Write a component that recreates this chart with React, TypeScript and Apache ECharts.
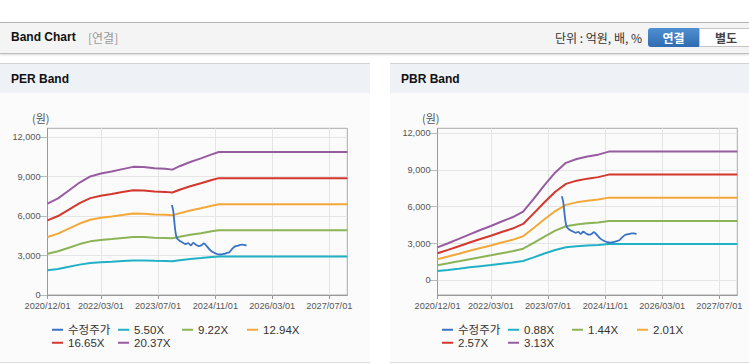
import React, { useEffect, useRef } from "react";
import * as echarts from "echarts";

// ---------- data ----------
const xTickDates = ["2020/12/01", "2022/03/01", "2023/07/01", "2024/11/01", "2026/03/01", "2027/07/01"];
const xStart = "2020/12/01";
const xEnd = "2027/12/01";
const yTicks = [0, 3000, 6000, 9000, 12000];

const perDates = ["2020/12/01", "2021/03/01", "2021/06/01", "2021/09/01", "2021/12/01", "2022/03/01", "2022/06/01", "2022/09/01", "2022/12/01", "2023/03/01", "2023/06/01", "2023/09/01", "2023/11/01", "2024/01/01", "2024/04/01", "2024/07/01", "2024/10/01", "2024/12/01", "2027/12/01"];
const per550 = [1877, 1985, 2147, 2311, 2435, 2495, 2538, 2587, 2633, 2630, 2603, 2592, 2576, 2646, 2732, 2808, 2889, 2938, 2938];
const per922 = [3146, 3327, 3598, 3874, 4082, 4182, 4254, 4336, 4413, 4408, 4363, 4345, 4318, 4435, 4580, 4707, 4843, 4924, 4924];
const per1294 = [4415, 4669, 5051, 5438, 5730, 5870, 5972, 6086, 6194, 6188, 6124, 6099, 6061, 6226, 6429, 6607, 6798, 6912, 6912];
const per1665 = [5681, 6008, 6498, 6997, 7373, 7553, 7684, 7831, 7970, 7961, 7880, 7847, 7798, 8011, 8272, 8501, 8746, 8893, 8893];
const per2037 = [6950, 7350, 7950, 8560, 9020, 9240, 9400, 9580, 9750, 9740, 9640, 9600, 9540, 9800, 10120, 10400, 10700, 10880, 10880];

const pbrDates = ["2020/12/01", "2021/03/01", "2021/06/01", "2021/09/01", "2021/12/01", "2022/03/01", "2022/06/01", "2022/09/01", "2022/12/01", "2023/03/01", "2023/06/01", "2023/09/01", "2023/12/01", "2024/03/01", "2024/06/01", "2024/09/01", "2024/12/01", "2027/12/01"];
const pbr088 = [754, 849, 950, 1055, 1153, 1246, 1350, 1445, 1575, 1870, 2182, 2475, 2694, 2784, 2840, 2882, 2953, 2953];
const pbr144 = [1233, 1390, 1555, 1725, 1886, 2038, 2208, 2365, 2577, 3060, 3570, 4049, 4408, 4555, 4647, 4716, 4831, 4831];
const pbr201 = [1721, 1939, 2171, 2408, 2633, 2845, 3083, 3301, 3596, 4271, 4983, 5651, 6152, 6358, 6486, 6583, 6743, 6743];
const pbr257 = [2200, 2480, 2775, 3079, 3367, 3637, 3941, 4220, 4598, 5460, 6372, 7226, 7866, 8129, 8293, 8416, 8622, 8622];
const pbr313 = [2680, 3020, 3380, 3750, 4100, 4430, 4800, 5140, 5600, 6650, 7760, 8800, 9580, 9900, 10100, 10250, 10500, 10500];

const priceDates = ["2023/10/27", "2023/11/08", "2023/11/17", "2023/11/27", "2023/12/08", "2023/12/29", "2024/01/26", "2024/02/23", "2024/03/15", "2024/04/05", "2024/04/26", "2024/05/24", "2024/06/14", "2024/07/05", "2024/07/26", "2024/08/23", "2024/09/20", "2024/10/18", "2024/11/15", "2024/12/13", "2025/01/10", "2025/02/07", "2025/02/28", "2025/03/21", "2025/04/18", "2025/05/16", "2025/06/13", "2025/07/04", "2025/07/25"];
const priceValues = [6850, 6400, 5600, 4800, 4350, 4150, 4000, 3880, 3950, 3780, 3960, 3800, 3720, 3780, 3930, 3680, 3400, 3230, 3120, 3080, 3120, 3200, 3260, 3480, 3700, 3760, 3830, 3820, 3760];

const perNames = ["수정주가", "5.50X", "9.22X", "12.94X", "16.65X", "20.37X"];
const pbrNames = ["수정주가", "0.88X", "1.44X", "2.01X", "2.57X", "3.13X"];
const colors = ["#3a72c4", "#21b1c6", "#8cb356", "#f4a83a", "#d3372d", "#975ca0"];

// ---------- helpers ----------
const toMs = (d: string) => {
  const [y, m, dd] = d.split("/").map(Number);
  return Date.UTC(y, m - 1, dd);
};
const fmtDate = (v: number) => {
  const d = new Date(v);
  const p = (n: number) => (n < 10 ? "0" + n : "" + n);
  return d.getUTCFullYear() + "/" + p(d.getUTCMonth() + 1) + "/" + p(d.getUTCDate());
};
const zip = (dates: string[], vals: number[]) => dates.map((d, i) => [toMs(d), vals[i]]);

const axisFont = "'Liberation Sans', Arial, sans-serif";
const legendFont = "'Liberation Sans', 'Noto Sans CJK KR', sans-serif";

// legend slot positions (layout)
const legendSlots = [
  [52, 231], [118, 231], [182, 231], [247, 231],
  [52, 244], [118, 244],
];

function buildOption(names: string[], dates: string[], bands: number[][], yMin: number, yMax: number) {
  const series: any[] = [];
  series.push({
    name: names[0],
    type: "line",
    data: zip(priceDates, priceValues),
    symbol: "none",
    smooth: 0.3,
    lineStyle: { width: 1.8, color: colors[0] },
    itemStyle: { color: colors[0] },
    z: 5,
  });
  bands.forEach((b, i) => {
    series.push({
      name: names[i + 1],
      type: "line",
      data: zip(dates, b),
      symbol: "none",
      lineStyle: { width: 2, color: colors[i + 1] },
      itemStyle: { color: colors[i + 1] },
    });
  });
  const legends = names.map((n, i) => ({
    data: [n],
    left: legendSlots[i][0],
    top: legendSlots[i][1],
    icon: "rect",
    itemWidth: 11,
    itemHeight: 2,
    padding: 0,
    textStyle: { fontSize: 11.5, color: "#333", fontFamily: legendFont },
    selectedMode: false,
  }));
  return {
    animation: false,
    grid: { left: 47.5, right: 0, top: 35.3, bottom: 66, show: true, borderColor: "#aaa", borderWidth: 1 },
    xAxis: {
      type: "value",
      min: toMs(xStart),
      max: toMs(xEnd),
      axisLine: { onZero: false, lineStyle: { color: "#999" } },
      axisTick: { show: true, length: 4, customValues: xTickDates.map(toMs), lineStyle: { color: "#999" } },
      axisLabel: {
        customValues: xTickDates.map(toMs),
        formatter: (v: number) => fmtDate(v),
        fontSize: 9.2,
        color: "#555",
        fontFamily: axisFont,
        margin: 6,
        showMinLabel: true,
        showMaxLabel: true,
      },
      splitLine: { show: true, lineStyle: { color: "#e5e5e5" } },
    },
    yAxis: {
      type: "value",
      min: yMin,
      max: yMax,
      axisLine: { show: true, onZero: false, lineStyle: { color: "#999" } },
      axisTick: { show: true, length: 8, customValues: yTicks, lineStyle: { color: "#bbb" } },
      axisLabel: {
        customValues: yTicks,
        formatter: (v: number) => v.toLocaleString("en-US"),
        fontSize: 9.2,
        color: "#555",
        fontFamily: axisFont,
        margin: 7,
      },
      splitLine: { show: true, lineStyle: { color: "#e5e5e5" } },
    },
    legend: legends,
    graphic: [
      {
        type: "text",
        left: 32,
        top: 19,
        style: { text: "(원)", fontSize: 11, fill: "#555", fontFamily: "'Noto Sans CJK KR', sans-serif" },
      },
    ],
    series,
  };
}

function BandChart(props: { names: string[]; dates: string[]; bands: number[][]; yMin: number; yMax: number; width: number; height: number; gridRight: number }) {
  const ref = useRef<HTMLDivElement>(null);
  useEffect(() => {
    if (!ref.current) return;
    const chart = echarts.init(ref.current, undefined, { renderer: "svg" });
    const opt: any = buildOption(props.names, props.dates, props.bands, props.yMin, props.yMax);
    opt.grid.right = props.gridRight;
    chart.setOption(opt);
    return () => chart.dispose();
  }, []);
  return <div ref={ref} style={{ width: props.width, height: props.height }} />;
}

const titleFont = "'Liberation Sans', 'Noto Sans CJK KR', sans-serif";

export default function App() {
  useEffect(() => {
    document.body.style.margin = "0";
  }, []);
  return (
    <div style={{ position: "fixed", left: 0, top: 0, width: 749, height: 364, background: "#fff", overflow: "hidden", fontFamily: titleFont }}>
      {/* header bar */}
      <div style={{ position: "absolute", left: 0, top: 22, width: 749, height: 30, background: "#f4f4f4", borderTop: "1px solid #b4b4b4", borderBottom: "1px solid #bdbdbd", boxShadow: "0 1px 2px rgba(0,0,0,0.15)" }}>
        <div style={{ position: "absolute", left: 11, top: 7, fontSize: 12, fontWeight: "bold", color: "#111" }}>Band Chart</div>
        <div style={{ position: "absolute", left: 88, top: 7, fontSize: 12, color: "#999", fontFamily: "'Noto Sans CJK KR', sans-serif", lineHeight: "15px" }}>[연결]</div>
        <div style={{ position: "absolute", right: 107, top: 7, fontSize: 12, color: "#333", fontFamily: "'Noto Sans CJK KR', sans-serif", lineHeight: "15px" }}>단위 : 억원, 배, %</div>
        <div style={{ position: "absolute", left: 648, top: 5, width: 51, height: 19, background: "linear-gradient(#4f8fd2, #2f6cb0)", borderRadius: "3px 0 0 3px", color: "#fff", fontWeight: "bold", fontSize: 12, textAlign: "center", lineHeight: "19px", fontFamily: "'Noto Sans CJK KR', sans-serif" }}>연결</div>
        <div style={{ position: "absolute", left: 699, top: 5, width: 52, height: 17, background: "#fff", border: "1px solid #c4c4c4", color: "#444", fontWeight: "bold", fontSize: 12, textAlign: "center", lineHeight: "17px", fontFamily: "'Noto Sans CJK KR', sans-serif" }}>별도</div>
      </div>

      {/* PER panel */}
      <div style={{ position: "absolute", left: 0, top: 63, width: 370, height: 298, background: "#fbfbfb", borderTop: "1px solid #d2d2d2", borderBottom: "1px solid #dcdcdc" }}>
        <div style={{ height: 29, background: "#eef2f7", position: "relative" }}>
          <div style={{ position: "absolute", left: 11, top: 8, fontSize: 12, fontWeight: "bold", color: "#111" }}>PER Band</div>
        </div>
        <BandChart names={perNames} dates={perDates} bands={[per550, per922, per1294, per1665, per2037]} yMin={0} yMax={12685} width={370} height={268} gridRight={22.7} />
      </div>

      {/* PBR panel */}
      <div style={{ position: "absolute", left: 390, top: 63, width: 359, height: 298, background: "#fbfbfb", borderTop: "1px solid #d2d2d2", borderBottom: "1px solid #dcdcdc" }}>
        <div style={{ height: 29, background: "#eef2f7", position: "relative" }}>
          <div style={{ position: "absolute", left: 11, top: 8, fontSize: 12, fontWeight: "bold", color: "#111" }}>PBR Band</div>
        </div>
        <BandChart names={pbrNames} dates={pbrDates} bands={[pbr088, pbr144, pbr201, pbr257, pbr313]} yMin={-1200} yMax={12400} width={359} height={268} gridRight={11.7} />
      </div>
    </div>
  );
}
